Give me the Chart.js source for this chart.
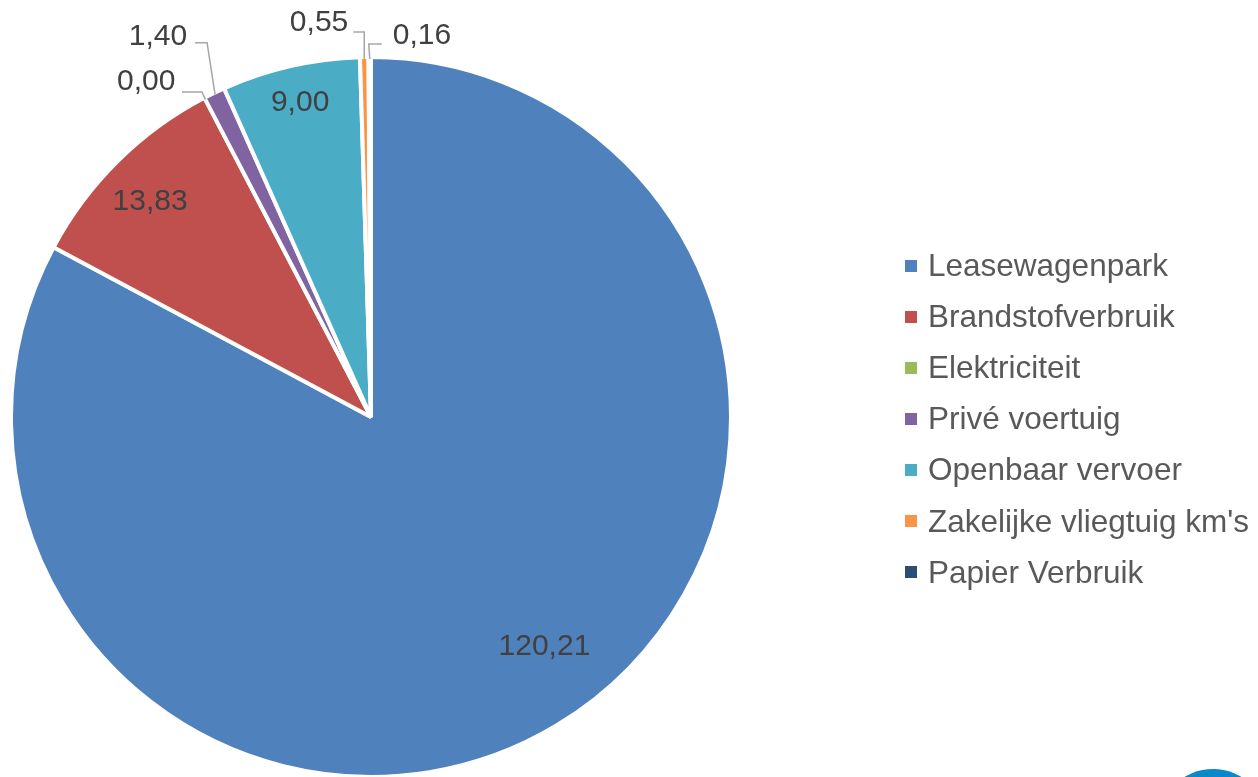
<!DOCTYPE html>
<html>
<head>
<meta charset="utf-8">
<script src="https://cdn.jsdelivr.net/npm/chart.js@4.4.1/dist/chart.umd.min.js"></script>
<style>
  html, body { margin: 0; padding: 0; background: #fff; overflow: hidden; }
  #wrap { position: relative; width: 1258px; height: 777px; }
  #legend { position: absolute; left: 905px; top: 240px; margin: 0; padding: 0; list-style: none;
            font-family: "Liberation Sans", Arial, sans-serif; font-size: 31.5px; color: #595959; }
  #legend li { display: flex; align-items: center; height: 51.1px; line-height: 51px; white-space: nowrap; }
  #legend .box { width: 12px; height: 12px; margin-right: 11px; flex: none; }
  #logo { position: absolute; left: 1158px; top: 769px; width: 110px; height: 110px;
          border-radius: 50%; background: #0a88cc; }
</style>
</head>
<body>
<div id="wrap">
  <canvas id="taart"></canvas>
  <ul id="legend"></ul>
  <div id="logo"></div>
</div>
<script>
const categorieen = ['Leasewagenpark', 'Brandstofverbruik', 'Elektriciteit', 'Privé voertuig',
    'Openbaar vervoer', "Zakelijke vliegtuig km's", 'Papier Verbruik'];
const waarden = [120.21, 13.83, 0.00, 1.40, 9.00, 0.55, 0.16];
const kleuren = ['#4f81bd', '#c0504d', '#9bbb59', '#8064a2', '#4bacc6', '#f79646', '#2c4d75'];

// plaatsing van de labels: binnen (r = fractie van straal, shift in graden)
// of buiten met een verbindingslijn (offsets vanaf de rand van het stuk)
const labelPlaats = [
    { binnen: true, r: 0.80, shift: -6.1 },
    { binnen: true, r: 0.856, shift: -1.1 },
    { knik: [-3.4, -7.6], eind: [-23.4, -7.6], tekst: [-30, -17.6], align: 'right' },
    { knik: [-8, -52], eind: [-20, -52], tekst: [-28, -58], align: 'right' },
    { binnen: true, r: 0.894, shift: 0.2 },
    { knik: [0, -27], eind: [-11, -27], tekst: [-16, -36], align: 'right' },
    { knik: [-1, -15], eind: [12, -15], tekst: [23, -23], align: 'left' }
];

function formatNL(v) {
    return v.toFixed(2).replace('.', ',');
}

const labelPlugin = {
    id: 'taartLabels',
    afterDatasetsDraw(chart) {
        const ctx = chart.ctx;
        const meta = chart.getDatasetMeta(0);
        ctx.save();
        ctx.font = '30px "Liberation Sans", Arial, sans-serif';
        ctx.fillStyle = '#404040';
        ctx.strokeStyle = '#a6a6a6';
        ctx.lineWidth = 1.5;
        ctx.textBaseline = 'middle';
        meta.data.forEach((arc, i) => {
            const p = arc.getProps(['x', 'y', 'startAngle', 'endAngle', 'outerRadius'], true);
            const mid = (p.startAngle + p.endAngle) / 2;
            const pl = labelPlaats[i];
            const tekst = formatNL(waarden[i]);
            if (pl.binnen) {
                const a = mid + pl.shift * Math.PI / 180;
                const r = p.outerRadius * pl.r;
                ctx.textAlign = 'center';
                ctx.fillText(tekst, p.x + r * Math.cos(a), p.y + r * Math.sin(a));
            } else {
                const rand = p.outerRadius - 2;
                const ax = p.x + rand * Math.cos(mid);
                const ay = p.y + rand * Math.sin(mid);
                ctx.beginPath();
                ctx.moveTo(ax, ay);
                ctx.lineTo(ax + pl.knik[0], ay + pl.knik[1]);
                ctx.lineTo(ax + pl.eind[0], ay + pl.eind[1]);
                ctx.stroke();
                ctx.textAlign = pl.align;
                ctx.fillText(tekst, ax + pl.tekst[0], ay + pl.tekst[1]);
            }
        });
        ctx.restore();
    }
};

// legenda als html, opgebouwd uit de legend items van chart.js
const htmlLegend = {
    id: 'htmlLegend',
    afterUpdate(chart) {
        const ul = document.getElementById('legend');
        ul.innerHTML = '';
        const items = chart.options.plugins.legend.labels.generateLabels(chart);
        items.forEach(item => {
            const li = document.createElement('li');
            const box = document.createElement('span');
            box.className = 'box';
            box.style.background = item.fillStyle;
            li.appendChild(box);
            li.appendChild(document.createTextNode(item.text));
            ul.appendChild(li);
        });
    }
};

const taart = new Chart(document.getElementById('taart').getContext('2d'), {
    type: 'pie',
    data: {
        labels: categorieen,
        datasets: [{
            data: waarden,
            backgroundColor: kleuren,
            borderColor: '#ffffff',
            borderWidth: 4
        }]
    },
    options: {
        responsive: true,
        maintainAspectRatio: false,
        animation: false,
        radius: 360,
        layout: { padding: { left: 11, top: 57, right: 527, bottom: 0 } },
        plugins: {
            legend: { display: false },
            tooltip: { enabled: false }
        }
    },
    plugins: [labelPlugin, htmlLegend]
});
</script>
</body>
</html>
